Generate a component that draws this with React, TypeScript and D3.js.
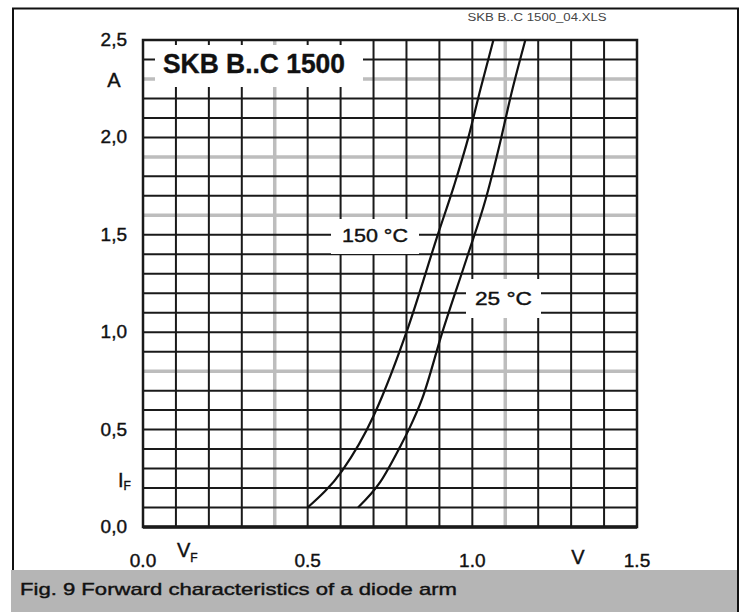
import React from 'react';
import * as d3 from 'd3';

// forward characteristics, VF in volts, IF in amps
const curve150: [number, number][] = [
  [0.5, 0.1], [0.605, 0.29], [0.7, 0.57], [0.726, 0.67], [0.8, 1.0],
  [0.897, 1.51], [0.944, 1.75], [0.988, 2.0], [1.025, 2.25], [1.064, 2.5],
];
const curve25: [number, number][] = [
  [0.653, 0.1], [0.72, 0.23], [0.78, 0.41], [0.81, 0.51], [0.848, 0.66], [0.909, 1.0],
  [0.985, 1.39], [1.04, 1.68], [1.088, 2.0], [1.115, 2.2], [1.161, 2.5],
];

const xTicks = [0, 0.5, 1.0, 1.5];
const xTickLabels = ['0.0', '0.5', '1.0', '1.5'];
const yTicks = [0, 0.5, 1.0, 1.5, 2.0, 2.5];
const yTickLabels = ['0,0', '0,5', '1,0', '1,5', '2,0', '2,5'];

// grid every 0.1, some lines came out light grey in the scan
const xGrid = d3.range(1, 15).map((i) => i / 10);
const yGrid = d3.range(1, 25).map((i) => i / 10);
const xGreyGrid = [0.4, 1.1];
const yGreyGrid = [0.8, 1.6, 1.9, 2.3];

const W = 745;
const H = 612;
const margin = { top: 40, right: 108, bottom: 85, left: 143 };

const font = "'Liberation Sans', Arial, sans-serif";

export default function App() {
  const x = d3.scaleLinear().domain([0, 1.5]).range([margin.left, W - margin.right]);
  const y = d3.scaleLinear().domain([0, 2.5]).range([H - margin.bottom, margin.top]);
  const line = d3
    .line<[number, number]>()
    .x((d) => x(d[0]))
    .y((d) => y(d[1]))
    .curve(d3.curveMonotoneX);

  const isGreyX = (v: number) => xGreyGrid.some((g) => Math.abs(g - v) < 1e-6);
  const isGreyY = (v: number) => yGreyGrid.some((g) => Math.abs(g - v) < 1e-6);

  const x0 = x(0), x1 = x(1.5), y0 = y(0), y1 = y(2.5);

  return (
    <svg width={W} height={H} style={{ position: 'absolute', left: 0, top: 0, background: '#fff' }}>
      {/* outer frame */}
      <rect x={13} y={8.5} width={725} height={H} fill="none" stroke="#111" strokeWidth={2} />
      <rect x={11} y={570} width={726} height={42} fill="#b5b5b5" />
      <line x1={738} x2={738} y1={8} y2={H} stroke="#111" strokeWidth={2} />

      <text x={537} y={21} fontFamily={font} fontSize={10} fill="#444" textAnchor="middle"
        textLength={139} lengthAdjust="spacingAndGlyphs">SKB B..C 1500_04.XLS</text>

      {/* grey grid lines */}
      <g stroke="#bdbdbd" strokeWidth={3.5}>
        {xGrid.filter(isGreyX).map((v) => (
          <line key={'gx' + v} x1={x(v)} x2={x(v)} y1={y1} y2={y0} />
        ))}
        {yGrid.filter(isGreyY).map((v) => (
          <line key={'gy' + v} x1={x0} x2={x1} y1={y(v)} y2={y(v)} />
        ))}
      </g>
      {/* black grid lines */}
      <g stroke="#1a1a1a" strokeWidth={2}>
        {xGrid.filter((v) => !isGreyX(v)).map((v) => (
          <line key={'x' + v} x1={x(v)} x2={x(v)} y1={y1} y2={y0} />
        ))}
        {yGrid.filter((v) => !isGreyY(v)).map((v) => (
          <line key={'y' + v} x1={x0} x2={x1} y1={y(v)} y2={y(v)} />
        ))}
      </g>

      {/* label boxes knock out the grid */}
      <rect x={155} y={45} width={208} height={42} fill="#fff" />
      <rect x={331} y={219} width={88} height={35} fill="#fff" />
      <rect x={466} y={279} width={75} height={39} fill="#fff" />

      {/* plot frame */}
      <rect x={x0} y={y1} width={x1 - x0} height={y0 - y1} fill="none" stroke="#1a1a1a" strokeWidth={2.5} />
      <line x1={x0} x2={x1} y1={y0} y2={y0} stroke="#1a1a1a" strokeWidth={3.5} />

      {/* curves */}
      <path d={line(curve150) || ''} fill="none" stroke="#111" strokeWidth={2.2} />
      <path d={line(curve25) || ''} fill="none" stroke="#111" strokeWidth={2.2} />

      <g fontFamily={font} fill="#111" stroke="#111" strokeWidth={0.4}>
        <text x={163} y={73} fontSize={27} fontWeight="bold" textLength={182} lengthAdjust="spacingAndGlyphs">
          SKB B..C 1500
        </text>
        <text x={342} y={242} fontSize={19} textLength={66} lengthAdjust="spacingAndGlyphs">150 °C</text>
        <text x={475} y={305} fontSize={19} textLength={57} lengthAdjust="spacingAndGlyphs">25 °C</text>

        {yTicks.map((v, i) => (
          <text key={'yl' + v} x={127} y={y(v) + 6} fontSize={19} textAnchor="end">{yTickLabels[i]}</text>
        ))}
        {xTicks.map((v, i) => (
          <text key={'xl' + v} x={x(v)} y={567} fontSize={19} textAnchor="middle">{xTickLabels[i]}</text>
        ))}

        <text x={114} y={87} fontSize={20} textAnchor="middle">A</text>
        <text x={118} y={487} fontSize={20}>I<tspan fontSize={12} dy={3}>F</tspan></text>
        <text x={177} y={557} fontSize={20}>V<tspan fontSize={12} dy={5}>F</tspan></text>
        <text x={578} y={564} fontSize={20} textAnchor="middle">V</text>

        <text x={20} y={595} fontSize={17} textLength={437} lengthAdjust="spacingAndGlyphs">
          Fig. 9 Forward characteristics of a diode arm
        </text>
      </g>
    </svg>
  );
}
